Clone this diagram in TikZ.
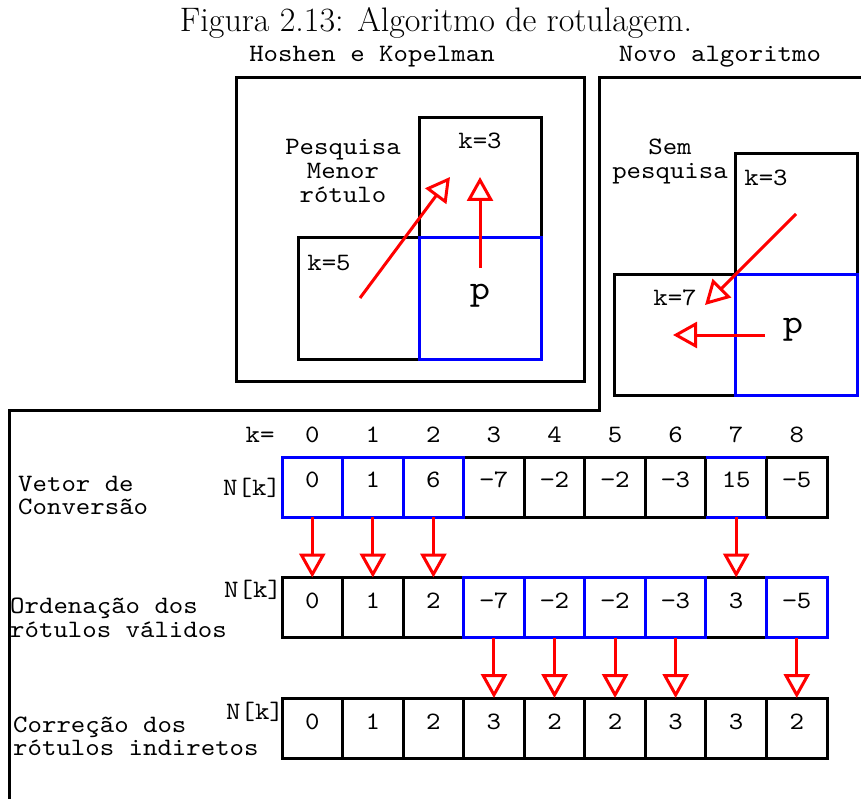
\documentclass[tikz,border=0pt]{standalone}
\usepackage{fontspec}
\setmonofont{lmmono10-regular.otf}[FakeStretch=1.1]
\usetikzlibrary{arrows.meta,calc}
\begin{document}
\begin{tikzpicture}[x=1pt,y=-1pt,
  txt/.style={font=\ttfamily\fontsize{25}{24}\selectfont, inner sep=0pt, align=center},
  ln/.style={txt, anchor=base, text height=16pt, text depth=5pt},
  lnw/.style={ln, anchor=base west},
  bigp/.style={font=\ttfamily\fontsize{35}{35}\selectfont, inner sep=0pt},
  ttl/.style={font=\fontsize{34}{34}\selectfont, inner sep=0pt},
  frame/.style={draw=black, line width=3pt},
  box/.style={draw=black, line width=3pt, inner sep=0pt, outer sep=0pt},
  bluebox/.style={box, draw=blue},
  cellk/.style={draw=black, line width=3pt, minimum width=60.56pt, minimum height=60pt, inner sep=0pt, outer sep=0pt},
  cellb/.style={cellk, draw=blue},
  redarrow/.style={draw=red, line width=3pt, -{Triangle[open, length=24pt, width=26pt]}}
]
\useasboundingbox (0,0) rectangle (861,799);

% title
\node[ttl] (title) at (436,23) {Figura 2.13: Algoritmo de rotulagem.};
\node[txt] (hk) at (372,57) {Hoshen e Kopelman};
\node[txt] (novo) at (720,57) {Novo algoritmo};

% frames
\draw[frame] (236,78) rectangle (584,381);
\draw[frame] (861,78) -- (599,78) -- (599,410) -- (9,410) -- (9,799);

% Hoshen-Kopelman
\node[box, minimum width=122pt, minimum height=120pt] (hk3) at (480,178) {};
\node[box, minimum width=121pt, minimum height=121pt] (hk5) at (358.5,298.5) {};
\node[bluebox, minimum width=122pt, minimum height=121pt] (hkp) at (480,298.5) {};
\node[ln] (pesq1) at (343,155) {Pesquisa};
\node[ln] (pesq2) at (343,179) {Menor};
\node[ln] (pesq3) at (343,203) {rótulo};
\node[txt] (hk3l) at (480,141) {k=3};
\node[txt] (hk5l) at (329,263) {k=5};
\node[bigp] (hkpl) at (480,296) {p};
\coordinate (hka1) at (360,298);
\coordinate (hkb1) at (450,177);
\coordinate (hka2) at (480,268);
\coordinate (hkb2) at (480,177);
\draw[redarrow] (hka1) -- (hkb1);
\draw[redarrow] (hka2) -- (hkb2);

% Novo algoritmo
\node[box, minimum width=122pt, minimum height=121pt] (na3) at (796,214.5) {};
\node[box, minimum width=121pt, minimum height=120pt] (na7) at (674.5,335) {};
\node[bluebox, minimum width=122pt, minimum height=120pt] (nap) at (796,335) {};
\node[ln] (sem1) at (670,155) {Sem};
\node[ln] (sem2) at (670,179) {pesquisa};
\node[txt] (na3l) at (766,178) {k=3};
\node[txt] (na7l) at (675,298) {k=7};
\node[bigp] (napl) at (793,330) {p};
\coordinate (naa1) at (796,214);
\coordinate (nab1) at (705,305);
\coordinate (naa2) at (765,335);
\coordinate (nab2) at (673,335);
\draw[redarrow] (naa1) -- (nab1);
\draw[redarrow] (naa2) -- (nab2);

% header
\node[txt] (khead) at (260,435) {k=};
\foreach \k in {0,...,8} {
  \node[txt] (h\k) at ({282+60.56*(\k+0.5)},435) {\k};
}

% row labels
\node[lnw] (lab1a) at (18,491) {Vetor de};
\node[lnw] (lab1b) at (18,514) {Conversão};
\node[lnw] (lab2a) at (10,613) {Ordenação dos};
\node[lnw] (lab2b) at (10,637) {rótulos válidos};
\node[lnw] (lab3a) at (13,732) {Correção dos};
\node[lnw] (lab3b) at (13,755) {rótulos indiretos};
\node[txt] (nk1) at (252,488) {N[k]};
\node[txt] (nk2) at (253,590) {N[k]};
\node[txt] (nk3) at (255,712) {N[k]};

% row 1
\foreach \k/\v in {3/−7,4/−2,5/−2,6/−3,7/15,8/−5} {
  \node[cellk] (r1c\k) at ({282+60.56*(\k+0.5)},487) {};
  \node[txt] (v1\k) at ($(r1c\k.north)+(0,23)$) {\v};
}
\foreach \k/\v in {0/0,1/1,2/6} {
  \node[cellb] (r1c\k) at ({282+60.56*(\k+0.5)},487) {};
  \node[txt] (v1\k) at ($(r1c\k.north)+(0,23)$) {\v};
}
\draw[draw=blue, line width=3pt] (r1c7.north west) -- (r1c7.north east) (r1c7.south west) -- (r1c7.south east);

% row 2
\foreach \k/\v in {0/0,1/1,2/2,7/3} {
  \node[cellk] (r2c\k) at ({282+60.56*(\k+0.5)},607.5) {};
  \node[txt] (v2\k) at ($(r2c\k.north)+(0,23)$) {\v};
}
\foreach \k/\v in {3/−7,4/−2,5/−2,6/−3,8/−5} {
  \node[cellb] (r2c\k) at ({282+60.56*(\k+0.5)},607.5) {};
  \node[txt] (v2\k) at ($(r2c\k.north)+(0,23)$) {\v};
}

% row 3
\foreach \k/\v in {0/0,1/1,2/2,3/3,4/2,5/2,6/3,7/3,8/2} {
  \node[cellk] (r3c\k) at ({282+60.56*(\k+0.5)},728) {};
  \node[txt] (v3\k) at ($(r3c\k.north)+(0,24)$) {\v};
}

% arrows
\foreach \k in {0,1,2,7} { \draw[redarrow] (r1c\k.south) -- (r2c\k.north); }
\foreach \k in {3,4,5,6,8} { \draw[redarrow] (r2c\k.south) -- (r3c\k.north); }
\end{tikzpicture}
\end{document}
